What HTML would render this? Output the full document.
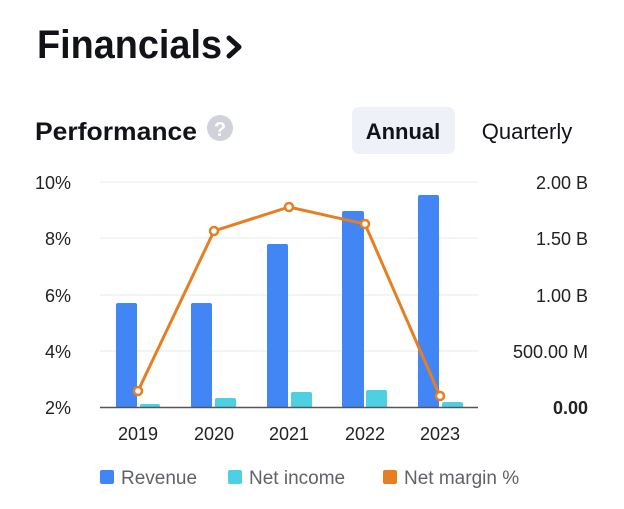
<!DOCTYPE html>
<html><head><meta charset="utf-8"><style>
body{margin:0;background:#fff;width:624px;height:504px;overflow:hidden;font-family:"Liberation Sans",sans-serif}
</style></head><body>
<svg width="624" height="504" xmlns="http://www.w3.org/2000/svg" font-family="Liberation Sans, sans-serif">
<text x="37" y="58" font-size="40" font-weight="bold" fill="#111318" textLength="185" lengthAdjust="spacingAndGlyphs">Financials</text>
<path d="M229 38 L239 47 L229 56" stroke="#111318" stroke-width="5" fill="none" stroke-linecap="round" stroke-linejoin="round"/>
<text x="35" y="140" font-size="25" font-weight="bold" fill="#111318" textLength="162" lengthAdjust="spacingAndGlyphs">Performance</text>
<circle cx="220" cy="128" r="13" fill="#cfd2da"/>
<text x="220" y="136" font-size="20" font-weight="bold" fill="#fff" text-anchor="middle">?</text>
<rect x="352" y="107" width="103" height="47" rx="7" fill="#eef1f8"/>
<text x="403" y="139" font-size="22" font-weight="bold" fill="#111318" text-anchor="middle">Annual</text>
<text x="527" y="139" font-size="22" fill="#111318" text-anchor="middle">Quarterly</text>
<g stroke="#eef0f3" stroke-width="1.5">
<line x1="100" y1="182" x2="478" y2="182"/><line x1="100" y1="238" x2="478" y2="238"/>
<line x1="100" y1="295" x2="478" y2="295"/><line x1="100" y1="351" x2="478" y2="351"/>
</g>
<g font-size="18" fill="#222">
<text x="71" y="189" text-anchor="end">10%</text><text x="71" y="245" text-anchor="end">8%</text>
<text x="71" y="302" text-anchor="end">6%</text><text x="71" y="358" text-anchor="end">4%</text>
<text x="71" y="414" text-anchor="end">2%</text>
<text x="588" y="189" text-anchor="end">2.00 B</text><text x="588" y="245" text-anchor="end">1.50 B</text>
<text x="588" y="302" text-anchor="end">1.00 B</text><text x="588" y="358" text-anchor="end">500.00 M</text>
<text x="588" y="414" text-anchor="end" font-weight="bold">0.00</text>
</g>
<g fill="#4285f4">
<rect x="116" y="303" width="21" height="105" rx="2"/><rect x="191" y="303" width="21" height="105" rx="2"/>
<rect x="267" y="244" width="21" height="164" rx="2"/><rect x="342" y="211" width="22" height="197" rx="2"/>
<rect x="418" y="195" width="21" height="213" rx="2"/>
</g>
<g fill="#4dd0e1">
<rect x="140" y="404" width="20" height="4" rx="2"/><rect x="215" y="398" width="21" height="10" rx="2"/>
<rect x="291" y="392" width="21" height="16" rx="2"/><rect x="366" y="390" width="21" height="18" rx="2"/>
<rect x="442" y="402" width="21" height="6" rx="2"/>
</g>
<line x1="100" y1="407.5" x2="478" y2="407.5" stroke="#555" stroke-width="1.5"/>
<polyline points="138,391 214,231 289,207 365,224 440,396" fill="none" stroke="#e67e22" stroke-width="3"/>
<g fill="#fff" stroke="#e67e22" stroke-width="2.5">
<circle cx="138" cy="391" r="4"/><circle cx="214" cy="231" r="4"/><circle cx="289" cy="207" r="4"/>
<circle cx="365" cy="224" r="4"/><circle cx="440" cy="396" r="4"/>
</g>
<g font-size="18" fill="#222" text-anchor="middle">
<text x="138" y="440">2019</text><text x="214" y="440">2020</text><text x="289" y="440">2021</text>
<text x="365" y="440">2022</text><text x="440" y="440">2023</text>
</g>
<rect x="100" y="470" width="14" height="14" rx="2" fill="#4285f4"/>
<rect x="228" y="470" width="14" height="14" rx="2" fill="#4dd0e1"/>
<rect x="383" y="470" width="14" height="14" rx="2" fill="#e67e22"/>
<g font-size="19" fill="#5f6368">
<text x="121" y="484">Revenue</text><text x="249" y="484">Net income</text><text x="404" y="484">Net margin %</text>
</g>
</svg>
</body></html>
